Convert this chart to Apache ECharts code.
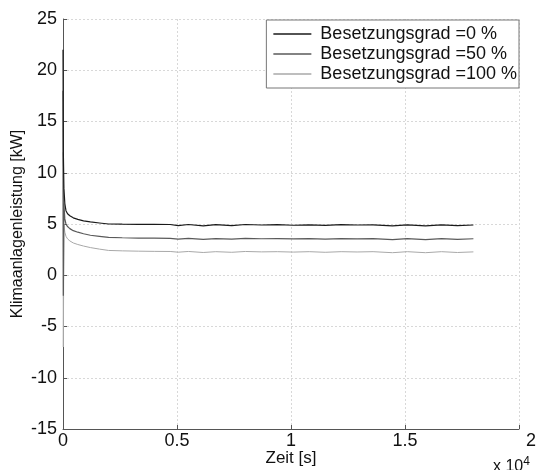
<!DOCTYPE html>
<html>
<head>
<meta charset="utf-8">
<script src="https://cdn.jsdelivr.net/npm/echarts@6/dist/echarts.min.js"></script>
<style>
  html, body { margin: 0; padding: 0; background: #fff; }
  #chart { width: 537px; height: 470px; }
</style>
</head>
<body>
<div id="chart"></div>
<script>
// Zeit [s]
var zeit = [0, 15, 40, 80, 130, 200, 300, 450, 650, 900, 1200, 1600, 2000, 2600, 3300, 4000, 4700, 5050, 5500, 6150, 6700, 7400, 8000, 8700, 9400, 10100, 10800, 11500, 12200, 12900, 13600, 14450, 15100, 15900, 16600, 17300, 18000];
// Besetzungsgrad 0 %
var grad0 = [22, 12, 8.5, 7.0, 6.3, 6.0, 5.8, 5.6, 5.45, 5.3, 5.2, 5.1, 5.0, 4.98, 4.97, 4.96, 4.95, 4.85, 4.95, 4.82, 4.93, 4.85, 4.95, 4.9, 4.93, 4.88, 4.92, 4.86, 4.93, 4.9, 4.92, 4.82, 4.92, 4.82, 4.92, 4.84, 4.9];
// Besetzungsgrad 50 %
var grad50 = [18, -2, 7.0, 5.5, 5.0, 4.75, 4.55, 4.35, 4.2, 4.05, 3.9, 3.8, 3.7, 3.66, 3.63, 3.62, 3.6, 3.52, 3.6, 3.5, 3.58, 3.52, 3.6, 3.56, 3.58, 3.54, 3.58, 3.52, 3.58, 3.55, 3.58, 3.48, 3.58, 3.48, 3.58, 3.5, 3.56];
// Besetzungsgrad 100 %
var grad100 = [12, -7, 5.0, 4.2, 3.8, 3.55, 3.35, 3.15, 3.0, 2.85, 2.7, 2.55, 2.42, 2.38, 2.35, 2.33, 2.32, 2.25, 2.32, 2.22, 2.3, 2.24, 2.32, 2.28, 2.3, 2.26, 2.3, 2.24, 2.3, 2.27, 2.3, 2.2, 2.3, 2.2, 2.3, 2.22, 2.28];

var serienNamen = ['Besetzungsgrad =0 %', 'Besetzungsgrad =50 %', 'Besetzungsgrad =100 %'];
var farben = ['#1a1a1a', '#5a5a5a', '#a8a8a8'];

function paare(werte) {
  return zeit.map(function (t, i) { return [t, werte[i]]; });
}

var chart = echarts.init(document.getElementById('chart'));
var font = 'Liberation Sans, Arial, sans-serif';

chart.setOption({
  animation: false,
  color: farben,
  grid: { left: 63, right: 18, top: 19, bottom: 41, containLabel: false, outerBoundsMode: 'none' },
  legend: {
    right: 18,
    top: 20,
    orient: 'vertical',
    itemWidth: 38,
    itemHeight: 1.5,
    itemGap: 2,
    padding: [5, 2, 5, 7],
    backgroundColor: '#fff',
    borderColor: '#777',
    borderWidth: 1,
    borderRadius: 0,
    icon: 'rect',
    textStyle: { fontFamily: font, fontSize: 18, color: '#111', padding: [0, 0, 0, 4] },
    data: serienNamen
  },
  xAxis: {
    type: 'value',
    min: 0,
    max: 20000,
    interval: 5000,
    name: 'Zeit [s]',
    nameLocation: 'middle',
    nameGap: 21,
    nameMoveOverlap: false,
    nameTextStyle: { fontFamily: font, fontSize: 17, color: '#111' },
    axisLine: { show: true, onZero: false, lineStyle: { color: '#555', width: 1 } },
    axisTick: { inside: true, length: 4, lineStyle: { color: '#555' } },
    axisLabel: {
      fontFamily: font, fontSize: 18, color: '#111', margin: 3,
      formatter: function (v) {
        var s = String(v / 10000);
        return v === 20000 ? '{r|' + s + '}' : s;
      },
      rich: { r: { fontFamily: font, fontSize: 18, color: '#111', padding: [0, 0, 0, 24] } }
    },
    splitLine: { show: true, lineStyle: { type: [2, 2], color: '#d8d8d8' } }
  },
  yAxis: {
    type: 'value',
    min: -15,
    max: 25,
    interval: 5,
    name: 'Klimaanlagenleistung [kW]',
    nameLocation: 'middle',
    nameGap: 37,
    nameMoveOverlap: false,
    nameTextStyle: { fontFamily: font, fontSize: 16, color: '#111' },
    axisLine: { show: true, lineStyle: { color: '#555', width: 1 } },
    axisTick: { show: true, inside: true, length: 4, lineStyle: { color: '#555' } },
    axisLabel: { fontFamily: font, fontSize: 18, color: '#111', margin: 6 },
    splitLine: { show: true, lineStyle: { type: [2, 2], color: '#d8d8d8' } }
  },
  graphic: [{
    type: 'text',
    left: 493,
    top: 456,
    style: {
      text: 'x 10{s|4}',
      fontFamily: font,
      fontSize: 16,
      fill: '#111',
      rich: { s: { fontSize: 12, verticalAlign: 'top', padding: [0, 0, 10, 0], fontFamily: font, fill: '#111' } }
    }
  }],
  series: serienNamen.map(function (name, i) {
    var daten = [grad0, grad50, grad100][i];
    return {
      name: name,
      type: 'line',
      showSymbol: false,
      data: paare(daten),
      lineStyle: { width: i === 2 ? 1 : 1.2, color: farben[i] },
      z: 3 - i
    };
  })
});
</script>
</body>
</html>
